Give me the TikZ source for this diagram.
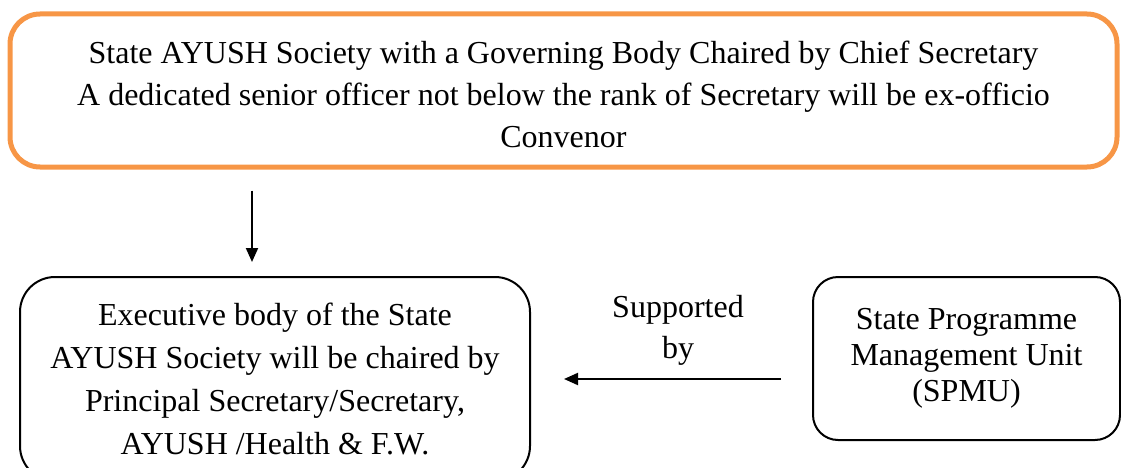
\documentclass[tikz,border=0pt]{standalone}
\usepackage{fontspec}
\setmainfont{Liberation Serif}
\usetikzlibrary{arrows.meta}
\definecolor{boxorange}{HTML}{F79646}
\tikzset{
  txt/.style={font=\fontsize{32}{42}\selectfont, align=center, inner sep=0pt},
  topbox/.style={txt, draw=boxorange, line width=5pt, rounded corners=30pt},
  blackbox/.style={txt, draw=black, line width=2pt},
  arr/.style={line width=2pt, -{Triangle[length=14pt,width=12pt]}}
}
\begin{document}
\begin{tikzpicture}[x=1pt,y=-1pt]
\useasboundingbox (0,0) rectangle (1121,468);
\begin{scope}
\clip (0,0) rectangle (1121,468);
\node[topbox, minimum width=1107pt, minimum height=153pt] (top) at (563.5,90.5)
  {\rule{0pt}{30pt}State AYUSH Society with a Governing Body Chaired by Chief Secretary\\
   A dedicated senior officer not below the rank of Secretary will be ex-officio\\
   Convenor};
\node[blackbox, rounded corners=35pt, minimum width=510pt, minimum height=204pt,
      font=\fontsize{32}{43}\selectfont] (exec) at (275,379)
  {Executive body of the State\\
   AYUSH Society will be chaired by\\
   Principal Secretary/Secretary,\\
   AYUSH /Health \& F.W.};
\node[blackbox, rounded corners=25pt, minimum width=307pt, minimum height=163pt,
      font=\fontsize{32}{36}\selectfont] (spmu) at (966.5,358.5)
  {State Programme\\
   Management Unit\\
   (SPMU)};
\node[txt, font=\fontsize{32}{41}\selectfont] (sup) at (678,330) {Supported\\by};
\coordinate (vx) at (252,0);
\draw[arr, shorten <=21pt, shorten >=14pt] (top.south -| vx) -- (exec.north -| vx);
\draw[arr, shorten <=31pt, shorten >=33pt] (spmu.west |- exec.east) -- (exec.east);
\end{scope}
\end{tikzpicture}
\end{document}
